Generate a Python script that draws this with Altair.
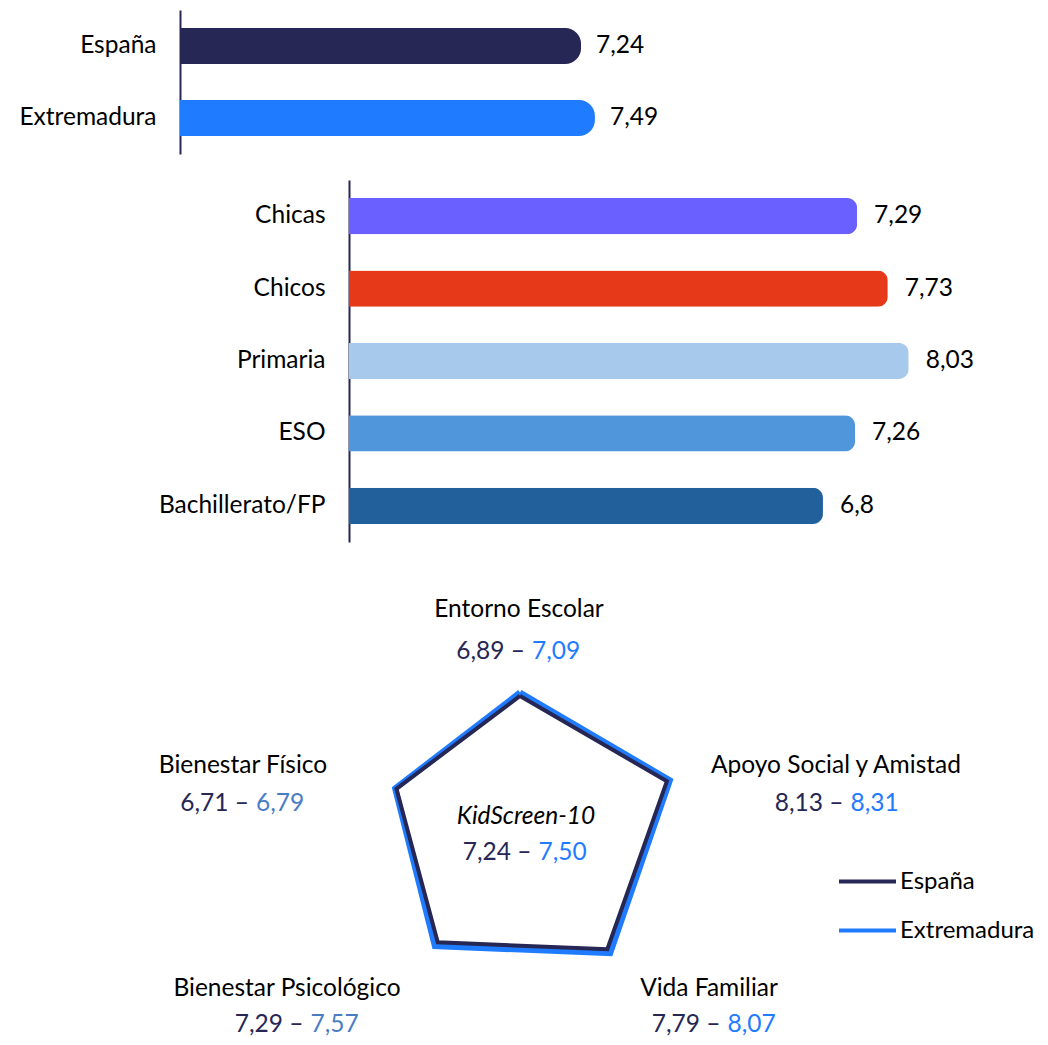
import altair as alt
import pandas as pd

# ---------------- data ----------------
region_names = ["España", "Extremadura"]
region_values = [7.24, 7.49]

group_names = ["Chicas", "Chicos", "Primaria", "ESO", "Bachillerato/FP"]
group_values = [7.29, 7.73, 8.03, 7.26, 6.8]

dimensions = ["Entorno Escolar", "Apoyo Social y Amistad", "Vida Familiar",
              "Bienestar Psicológico", "Bienestar Físico"]
spain_scores = [6.89, 8.13, 7.79, 7.29, 6.71]
extremadura_scores = [7.09, 8.31, 8.07, 7.57, 6.79]

index_name = "KidScreen-10"
index_spain = 7.24
index_extremadura = 7.50

# ---------------- styles / layout ----------------
NAVY = "#262754"
BLUE = "#1F7BFF"
MUTED_BLUE = "#4A7CC4"
INK = "#000000"
FONT = "Lato"
FS = 24.5

region_colors = [NAVY, BLUE]
group_colors = ["#6A5FFF", "#E5391A", "#A7C9EC", "#5096DA", "#22609B"]
extremadura_number_colors = [BLUE, BLUE, BLUE, MUTED_BLUE, MUTED_BLUE]

W, H = 1032, 1029

# radar geometry (pixels in plot space)
CX, CY, K = 512, 821, 17.3
RADIAL_MIN = -0.8

# annotation positions around the radar (pixels in plot space)
label_x = [511, 828, 701, 279, 235]
title_y = [602, 758, 981, 981, 758]
number_x = [510.5, 829, 706, 289, 234.5]
number_y = [644, 796, 1017, 1017, 796]

comma_plain = "replace(toString(datum.value), '.', ',')"


def bar_block(names, values, colors, x0, px_per_unit, y_top, y_bottom, radius, text_dx):
    df = pd.DataFrame({"name": names, "value": values})
    y = alt.Y("name:N", title=None,
              scale=alt.Scale(domain=names, range=[y_top, y_bottom],
                              paddingInner=0.5, paddingOuter=0.25),
              axis=alt.Axis(orient="left", offset=-x0, ticks=False, grid=False,
                            labelPadding=24, labelFont=FONT, labelFontSize=FS,
                            labelColor=INK, labelLimit=0,
                            domainColor=NAVY, domainWidth=2))
    x = alt.X("value:Q", title=None, axis=None,
              scale=alt.Scale(domain=[0, 10], range=[x0, x0 + 10 * px_per_unit]))
    bars = alt.Chart(df).mark_bar(cornerRadiusEnd=radius).encode(
        x=x, y=y,
        color=alt.Color("name:N", legend=None,
                        scale=alt.Scale(domain=names, range=colors)))
    text = alt.Chart(df).transform_calculate(label=comma_plain).mark_text(
        align="left", dx=text_dx, font=FONT, fontSize=FS, color=INK
    ).encode(x=x, y=y, text="label:N")
    return alt.layer(bars, text)


top_block = bar_block(region_names, region_values, region_colors,
                      172, 55.4, 2, 146, 16, 15)
mid_block = bar_block(group_names, group_values, group_colors,
                      341, 69.7, 172, 534, 10, 17)

# ---------------- radar ----------------
rows = []
for series, scores in (("España", spain_scores), ("Extremadura", extremadura_scores)):
    closed_dims = dimensions + dimensions[:1]
    closed_scores = scores + scores[:1]
    for i, (d, v) in enumerate(zip(closed_dims, closed_scores)):
        rows.append({"series": series, "dimension": d, "step": i, "value": v})
radar_df = pd.DataFrame(rows)

rx = alt.X("px:Q", axis=None, title=None,
           scale=alt.Scale(domain=[-10, 10], range=[CX - 10 * K, CX + 10 * K]))
ry = alt.Y("py:Q", axis=None, title=None,
           scale=alt.Scale(domain=[-10, 10], range=[CY + 10 * K, CY - 10 * K]))

radar_color = alt.Color(
    "series:N",
    scale=alt.Scale(domain=region_names, range=region_colors),
    legend=alt.Legend(title=None, orient="none", legendX=829, legendY=843,
                      symbolType="stroke", symbolSize=3249, symbolStrokeWidth=4,
                      labelFont=FONT, labelFontSize=24, labelColor=INK,
                      labelOffset=2, rowPadding=6))


def radar_line(series, width):
    return alt.Chart(radar_df).transform_filter(
        alt.datum.series == series
    ).transform_calculate(
        angle="PI / 2 - datum.step * 2 * PI / 5",
        r=f"datum.value - ({RADIAL_MIN})",
    ).transform_calculate(
        px="datum.r * cos(datum.angle)",
        py="datum.r * sin(datum.angle)",
    ).mark_line(strokeWidth=width, strokeJoin="miter", strokeMiterLimit=10).encode(
        x=rx, y=ry, order="step:Q", color=radar_color)


center_df = pd.DataFrame({"name": [index_name], "esp": [index_spain],
                          "ext": [index_extremadura], "px": [0], "py": [0]})
center_title = alt.Chart(center_df).mark_text(
    font=FONT, fontSize=FS, fontStyle="italic", color=INK, dx=6, dy=-12
).encode(x=rx, y=ry, text="name:N")
center_esp = alt.Chart(center_df).transform_calculate(
    t="replace(format(datum.esp, '.2f'), '.', ',') + ' –'"
).mark_text(font=FONT, fontSize=FS, color=NAVY, align="right", dx=11.5, dy=24).encode(
    x=rx, y=ry, text="t:N")
center_ext = alt.Chart(center_df).transform_calculate(
    t="replace(format(datum.ext, '.2f'), '.', ',')"
).mark_text(font=FONT, fontSize=FS, color=BLUE, align="left", dx=18.5, dy=24).encode(
    x=rx, y=ry, text="t:N")

radar_block = alt.layer(radar_line("Extremadura", 6), radar_line("España", 4),
                        center_title, center_esp, center_ext)

# ---------------- dimension annotations ----------------
ann_df = pd.DataFrame({
    "dimension": dimensions,
    "esp": spain_scores,
    "ext": extremadura_scores,
    "lx": label_x, "ty": title_y, "nx": number_x, "ny": number_y,
})

titles = alt.Chart(ann_df).mark_text(font=FONT, fontSize=FS, color=INK).encode(
    x=alt.X("lx:Q", scale=None), y=alt.Y("ty:Q", scale=None), text="dimension:N")
num_esp = alt.Chart(ann_df).transform_calculate(
    t="replace(format(datum.esp, '.2f'), '.', ',') + ' –'"
).mark_text(font=FONT, fontSize=FS, color=NAVY, align="right", dx=6.5).encode(
    x=alt.X("nx:Q", scale=None), y=alt.Y("ny:Q", scale=None), text="t:N")
num_ext = alt.Chart(ann_df).transform_calculate(
    t="replace(format(datum.ext, '.2f'), '.', ',')"
).mark_text(font=FONT, fontSize=FS, align="left", dx=13.5).encode(
    x=alt.X("nx:Q", scale=None), y=alt.Y("ny:Q", scale=None), text="t:N",
    color=alt.Color("dimension:N", legend=None,
                    scale=alt.Scale(domain=dimensions, range=extremadura_number_colors)))

chart = alt.layer(
    top_block, mid_block, radar_block, titles, num_esp, num_ext
).resolve_scale(
    x="independent", y="independent", color="independent"
).properties(
    width=W, height=H, padding=0, background="white",
    autosize=alt.AutoSizeParams(type="none")
).configure_view(stroke=None)

chart.save("out.html", embed_options={"renderer": "svg", "actions": False})
